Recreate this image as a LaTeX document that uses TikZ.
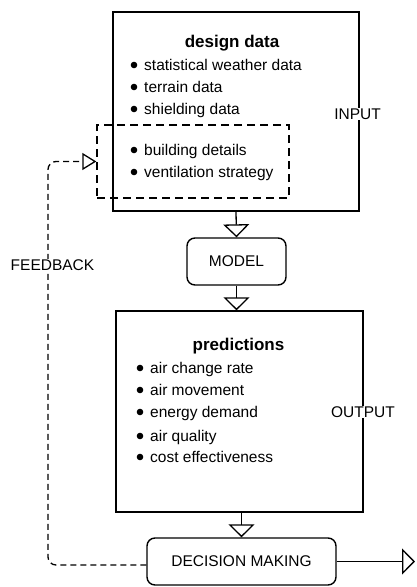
\documentclass[tikz,border=0pt]{standalone}
\usepackage{fontspec}
\setmainfont{Liberation Sans}
\usetikzlibrary{arrows.meta}
\tikzset{
  box/.style={draw, line width=1.4pt, minimum width=#1, inner sep=0pt},
  rbox/.style={draw, line width=1.4pt, rounded corners=8pt, inner sep=0pt, font=\fontsize{15.5}{18}\selectfont},
  dbox/.style={draw, line width=1.4pt, dash pattern=on 8pt off 5pt, inner sep=0pt},
  title/.style={font=\fontsize{17}{20}\selectfont\bfseries, inner sep=0pt},
  item/.style={font=\fontsize{15.5}{18}\selectfont, inner sep=0pt, anchor=base west},
  side/.style={font=\fontsize{15.5}{18}\selectfont, fill=white, inner sep=1pt},
  flow/.style={line width=1.3pt, -{Triangle[open, length=13pt, width=26pt, line width=1.3pt]}},
  fb/.style={line width=1.3pt, dash pattern=on 6pt off 4pt, rounded corners=8pt, -{Triangle[open, length=14pt, width=17pt, line width=1.3pt]}},
  dot/.style={fill=black}
}
\begin{document}
\begin{tikzpicture}[x=1pt,y=-1pt]
\useasboundingbox (0,0) rectangle (416,587);
% boxes
\node[box, minimum width=246pt, minimum height=199pt] (top) at (236,111.5) {};
\node[dbox, minimum width=192pt, minimum height=73pt] (dsh) at (193,161.5) {};
\node[rbox, minimum width=99pt, minimum height=47pt] (model) at (236.5,261.5) {MODEL};
\node[box, minimum width=247pt, minimum height=201pt] (pred) at (239.5,411.5) {};
\node[rbox, minimum width=189pt, minimum height=47pt] (dec) at (241.5,561.5) {DECISION MAKING};
\coordinate (out) at (415,561.5);
\coordinate (fbc) at (48,565);
\coordinate (fbt) at (48,161.5);
% titles
\node[title] (t1) at (232,43) {design data};
\node[title] (t2) at (238.5,346) {predictions};
% design items
\foreach \y/\t [count=\i] in {65/statistical weather data, 87/terrain data, 109/shielding data, 150/building details, 172/ventilation strategy}{
  \fill[dot] (134,\y) circle (3.3pt);
  \node[item] (d\i) at (144,\y+5) {\t};
}
% prediction items
\foreach \y/\t [count=\i] in {368/air change rate, 390/air movement, 412/energy demand, 436/air quality, 457/cost effectiveness}{
  \fill[dot] (140,\y) circle (3.3pt);
  \node[item] (p\i) at (150,\y+5) {\t};
}
% side labels
\node[side] (inp) at (357.5,114) {INPUT};
\node[side] (outp) at (363,412) {OUTPUT};
% connectors
\draw[flow] (top.south) -- (model.north);
\draw[flow] (model.south) -- (model.south |- pred.north);
\draw[flow] (dec.north |- pred.south) -- (dec.north);
\draw[flow] (dec.east) -- (out);
\draw[fb] (dec.west |- fbc) -- (fbc) -- (fbt) -- (dsh.west);
\node[side] (fbl) at (52.5,265) {FEEDBACK};
\end{tikzpicture}
\end{document}
